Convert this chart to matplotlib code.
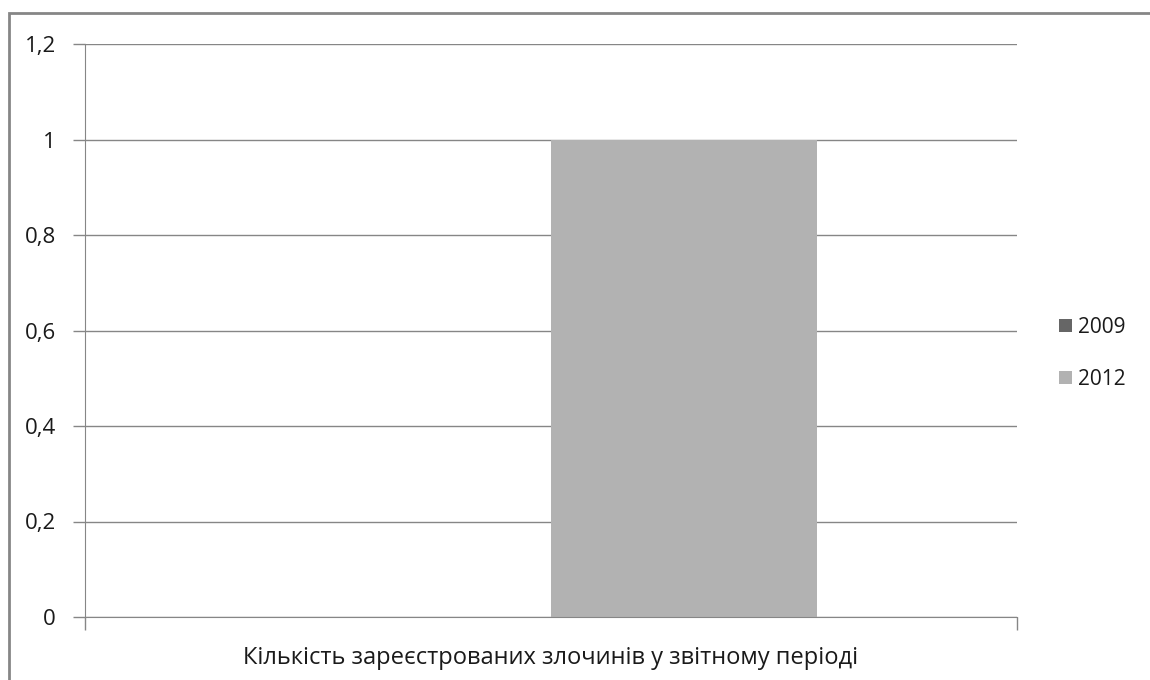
import matplotlib
matplotlib.use("Agg")
import matplotlib.pyplot as plt
from matplotlib.patches import Rectangle
from matplotlib.ticker import FixedLocator, FuncFormatter

category = "Кількість зареєстрованих злочинів у звітному періоді"
series = ["2009", "2012"]
values = [0, 1]
colors = ["#666666", "#b2b2b2"]

plt.rcParams["font.family"] = ["Open Sans", "DejaVu Sans"]

fig = plt.figure(figsize=(11.5, 6.8), dpi=100)
fig.patches.append(Rectangle((9 / 1150, -0.01), 1.0, 1 - 13 / 680 + 0.01,
                             transform=fig.transFigure, fill=False,
                             edgecolor="#868686", linewidth=2))

ax = fig.add_axes([85 / 1150, 63 / 680, 932 / 1150, 573 / 680])

width = 0.2854
offsets = [-width / 2, width / 2]
for name, val, off, col in zip(series, values, offsets, colors):
    ax.bar(off, val, width=width, color=col, label=name, zorder=2)

ax.set_xlim(-0.5, 0.5)
ax.set_ylim(0, 1.2)
ax.set_yticks([0, 0.2, 0.4, 0.6, 0.8, 1.0, 1.2])
ax.yaxis.set_major_formatter(FuncFormatter(
    lambda v, p: ("%g" % round(v, 1)).replace(".", ",")))
ax.grid(axis="y", color="#868686", linewidth=1, zorder=0)

ax.xaxis.set_major_locator(FixedLocator([-0.5, 0.5]))
ax.xaxis.set_minor_locator(FixedLocator([0]))
ax.xaxis.set_major_formatter(FuncFormatter(lambda v, p: ""))
ax.xaxis.set_minor_formatter(FuncFormatter(lambda v, p: category))
ax.tick_params(axis="x", which="major", length=9, color="#868686", width=1)
ax.tick_params(axis="x", which="minor", length=0, pad=21, labelsize=17,
               labelcolor="#1a1a1a")
ax.tick_params(axis="y", length=9, color="#868686", width=1, pad=12,
               labelsize=16, labelcolor="#1a1a1a")

for side in ["top", "right"]:
    ax.spines[side].set_visible(False)
for side in ["left", "bottom"]:
    ax.spines[side].set_color("#868686")

ax.legend(loc="center left", bbox_to_anchor=(1.025, 0.46), frameon=False,
          fontsize=15, handlelength=0.6, handleheight=0.6, handletextpad=0.3,
          labelspacing=1.5, labelcolor="#1a1a1a")

fig.savefig("out.png", dpi=100)
